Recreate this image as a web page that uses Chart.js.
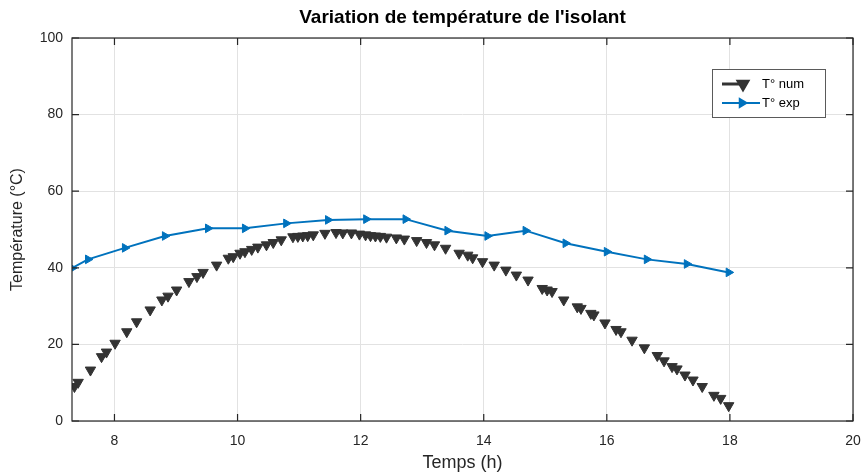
<!DOCTYPE html>
<html>
<head>
<meta charset="utf-8">
<script src="https://cdn.jsdelivr.net/npm/chart.js@4/dist/chart.umd.min.js"></script>
<style>
  html, body { margin: 0; padding: 0; background: #ffffff; }
  #c { display: block; }
</style>
</head>
<body>
<canvas id="c" width="861" height="473"></canvas>
<script>
// Simulated insulation temperature (hours, °C)
const numTime = [7.35, 7.41, 7.61, 7.79, 7.87, 8.01, 8.20, 8.36, 8.58, 8.77, 8.87, 9.01, 9.21, 9.34, 9.44,
  9.66, 9.85, 9.93, 10.04, 10.12, 10.23, 10.33, 10.47, 10.58, 10.71, 10.90, 10.98, 11.06, 11.14, 11.23,
  11.42, 11.60, 11.71, 11.85, 11.98, 12.08, 12.16, 12.24, 12.32, 12.42, 12.58, 12.71, 12.91, 13.07, 13.20,
  13.38, 13.60, 13.74, 13.82, 13.98, 14.17, 14.36, 14.53, 14.72, 14.95, 15.03, 15.11, 15.30, 15.52, 15.58,
  15.74, 15.79, 15.97, 16.15, 16.23, 16.41, 16.61, 16.82, 16.93, 17.06, 17.14, 17.27, 17.40, 17.55, 17.74,
  17.85, 17.98];
const numTemp = [9.0, 10.1, 13.3, 16.8, 18.0, 20.3, 23.3, 25.9, 29.0, 31.6, 32.6, 34.2, 36.4, 37.7, 38.8,
  40.7, 42.5, 42.9, 43.8, 44.2, 44.8, 45.4, 46.0, 46.6, 47.3, 48.1, 48.2, 48.3, 48.4, 48.6,
  49.0, 49.2, 49.1, 49.1, 48.8, 48.6, 48.4, 48.3, 48.2, 48.0, 47.8, 47.5, 47.1, 46.6, 46.0,
  45.1, 43.8, 43.3, 42.6, 41.6, 40.7, 39.4, 38.1, 36.8, 34.6, 34.2, 33.8, 31.6, 29.8, 29.4,
  28.1, 27.7, 25.6, 23.9, 23.3, 21.1, 19.1, 17.1, 15.7, 14.2, 13.6, 12.0, 10.7, 9.0, 6.7,
  5.9, 4.0];

// Measured insulation temperature (hours, °C)
const expTime = [7.31, 7.57, 8.17, 8.82, 9.52, 10.12, 10.79, 11.47, 12.09, 12.73, 13.41, 14.06, 14.68,
  15.33, 16.00, 16.65, 17.30, 17.98];
const expTemp = [39.9, 42.2, 45.2, 48.3, 50.3, 50.3, 51.6, 52.5, 52.7, 52.7, 49.7, 48.3, 49.7,
  46.4, 44.2, 42.2, 41.0, 38.8];

const xTicks = [8, 10, 12, 14, 16, 18, 20];
const yTicks = [0, 20, 40, 60, 80, 100];
const seriesNames = ['T° num', 'T° exp'];
const titleText = "Variation de température de l'isolant";
const xLabel = 'Temps (h)';
const yLabel = 'Température (°C)';

const FONT = '"Liberation Sans", Arial, sans-serif';
const AXIS_COLOR = '#262626';
const NUM_COLOR = '#333333';
const EXP_COLOR = '#0072BD';

const toPoints = (xs, ys) => xs.map((x, i) => ({ x: x, y: ys[i] }));

// Axes box, inward ticks, title, axis labels and legend
const decorations = {
  id: 'decorations',
  afterDatasetsDraw(chart) {
    const ctx = chart.ctx;
    const a = chart.chartArea;
    const xs = chart.scales.x, ys = chart.scales.y;
    const tick = 7;
    ctx.save();
    ctx.strokeStyle = AXIS_COLOR;
    ctx.lineWidth = 1.2;
    ctx.strokeRect(a.left, a.top, a.right - a.left, a.bottom - a.top);
    ctx.beginPath();
    xTicks.forEach(v => {
      const px = xs.getPixelForValue(v);
      ctx.moveTo(px, a.bottom); ctx.lineTo(px, a.bottom - tick);
      ctx.moveTo(px, a.top); ctx.lineTo(px, a.top + tick);
    });
    yTicks.forEach(v => {
      const py = ys.getPixelForValue(v);
      ctx.moveTo(a.left, py); ctx.lineTo(a.left + tick, py);
      ctx.moveTo(a.right, py); ctx.lineTo(a.right - tick, py);
    });
    ctx.stroke();

    // Title
    ctx.fillStyle = '#000000';
    ctx.font = 'bold 19px ' + FONT;
    ctx.textAlign = 'center';
    ctx.textBaseline = 'middle';
    ctx.fillText(titleText, (a.left + a.right) / 2, 18);

    // Axis labels
    ctx.fillStyle = AXIS_COLOR;
    ctx.font = '18px ' + FONT;
    ctx.fillText(xLabel, (a.left + a.right) / 2, 463);
    ctx.font = '16px ' + FONT;
    ctx.save();
    ctx.translate(18, (a.top + a.bottom) / 2);
    ctx.rotate(-Math.PI / 2);
    ctx.fillText(yLabel, 0, 0);
    ctx.restore();

    // Legend
    const lx = 712, ly = 69, lw = 113, lh = 48;
    ctx.fillStyle = '#ffffff';
    ctx.fillRect(lx, ly, lw, lh);
    ctx.strokeStyle = '#5a5a5a';
    ctx.lineWidth = 1;
    ctx.strokeRect(lx + 0.5, ly + 0.5, lw, lh);

    const rowY = [84, 103];
    // T° num entry
    ctx.strokeStyle = NUM_COLOR;
    ctx.lineWidth = 3;
    ctx.beginPath();
    ctx.moveTo(722, rowY[0]); ctx.lineTo(745, rowY[0]);
    ctx.stroke();
    ctx.fillStyle = NUM_COLOR;
    Chart.helpers.drawPoint(ctx, { pointStyle: 'triangle', radius: 5.5, rotation: 180, borderWidth: 1 }, 743, rowY[0]);
    ctx.fill();
    // T° exp entry
    ctx.strokeStyle = EXP_COLOR;
    ctx.lineWidth = 2;
    ctx.beginPath();
    ctx.moveTo(722, rowY[1]); ctx.lineTo(760, rowY[1]);
    ctx.stroke();
    ctx.fillStyle = EXP_COLOR;
    Chart.helpers.drawPoint(ctx, { pointStyle: 'triangle', radius: 4.5, rotation: 90, borderWidth: 1 }, 742, rowY[1]);
    ctx.fill();

    ctx.fillStyle = '#000000';
    ctx.font = '13px ' + FONT;
    ctx.textAlign = 'left';
    ctx.fillText(seriesNames[0], 762, rowY[0]);
    ctx.fillText(seriesNames[1], 762, rowY[1]);
    ctx.restore();
  }
};

new Chart(document.getElementById('c'), {
  type: 'scatter',
  data: {
    datasets: [
      {
        label: seriesNames[0],
        data: toPoints(numTime, numTemp),
        showLine: false,
        pointStyle: 'triangle',
        pointRotation: 180,
        pointRadius: 6,
        pointBackgroundColor: NUM_COLOR,
        pointBorderColor: NUM_COLOR,
        pointBorderWidth: 1
      },
      {
        label: seriesNames[1],
        data: toPoints(expTime, expTemp),
        showLine: true,
        borderColor: EXP_COLOR,
        borderWidth: 2,
        tension: 0,
        pointStyle: 'triangle',
        pointRotation: 90,
        pointRadius: 5,
        pointBackgroundColor: EXP_COLOR,
        pointBorderColor: EXP_COLOR,
        pointBorderWidth: 1
      }
    ]
  },
  options: {
    responsive: false,
    animation: false,
    events: [],
    layout: { padding: { left: 0, right: 8, top: 38, bottom: 0 } },
    plugins: {
      legend: { display: false },
      title: { display: false },
      tooltip: { enabled: false }
    },
    scales: {
      x: {
        type: 'linear',
        min: 7.31,
        max: 20,
        afterFit: s => { s.height = 52; s.paddingLeft = 0; s.paddingRight = 0; },
        afterBuildTicks: s => { s.ticks = xTicks.map(v => ({ value: v })); },
        grid: { color: '#e2e2e2', lineWidth: 1, drawTicks: false },
        border: { display: false },
        ticks: { color: AXIS_COLOR, font: { family: FONT, size: 14 }, padding: 12, maxRotation: 0 }
      },
      y: {
        type: 'linear',
        min: 0,
        max: 100,
        afterFit: s => { s.width = 72; s.paddingTop = 0; s.paddingBottom = 0; },
        afterBuildTicks: s => { s.ticks = yTicks.map(v => ({ value: v })); },
        grid: { color: '#e2e2e2', lineWidth: 1, drawTicks: false },
        border: { display: false },
        ticks: { color: AXIS_COLOR, font: { family: FONT, size: 14 }, padding: 9 }
      }
    }
  },
  plugins: [decorations]
});
</script>
</body>
</html>
